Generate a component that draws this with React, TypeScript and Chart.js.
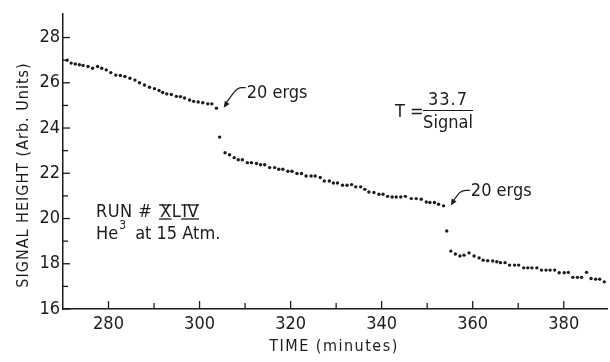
import React, { useEffect, useRef } from "react";
import { Chart, registerables } from "chart.js";

Chart.register(...registerables);

// ---- data ----
const seg1X = [270.9, 271.8, 272.7, 273.6, 274.4, 275.5, 276.5, 277.6, 278.5, 279.5, 280.5, 281.6, 282.6, 283.6, 284.7, 285.8, 286.8, 287.9, 289.0, 290.1, 291.1, 291.9, 292.8, 293.8, 294.9, 295.8, 296.7, 297.8, 298.7, 299.7, 300.7, 301.8, 302.7, 303.7];
const seg1Y = [27.0, 26.87, 26.83, 26.8, 26.77, 26.72, 26.64, 26.72, 26.64, 26.57, 26.45, 26.34, 26.32, 26.28, 26.2, 26.12, 26.0, 25.9, 25.8, 25.74, 25.66, 25.57, 25.51, 25.48, 25.4, 25.39, 25.33, 25.24, 25.18, 25.15, 25.12, 25.07, 25.07, 24.88];

const jump1X = [304.4];
const jump1Y = [23.6];

const seg2X = [305.6, 306.6, 307.6, 308.5, 309.4, 310.5, 311.4, 312.5, 313.4, 314.3, 315.4, 316.5, 317.4, 318.3, 319.4, 320.3, 321.4, 322.4, 323.4, 324.5, 325.4, 326.5, 327.4, 328.5, 329.4, 330.3, 331.4, 332.4, 333.4, 334.3, 335.4, 336.3, 337.2, 338.3, 339.4, 340.3, 341.3, 342.3, 343.2, 344.2, 345.2, 346.5, 347.6, 348.7, 349.8, 350.6, 351.6, 352.5, 353.6];
const seg2Y = [22.91, 22.82, 22.69, 22.6, 22.6, 22.47, 22.47, 22.43, 22.38, 22.38, 22.25, 22.25, 22.18, 22.18, 22.09, 22.09, 21.99, 21.99, 21.88, 21.88, 21.88, 21.81, 21.66, 21.66, 21.57, 21.57, 21.47, 21.47, 21.5, 21.4, 21.4, 21.29, 21.17, 21.15, 21.07, 21.07, 20.98, 20.95, 20.95, 20.95, 20.98, 20.88, 20.88, 20.85, 20.73, 20.71, 20.71, 20.63, 20.56];

const jump2X = [354.3];
const jump2Y = [19.45];

const seg3X = [355.2, 356.2, 357.2, 358.1, 359.2, 360.3, 361.4, 362.3, 363.3, 364.4, 365.3, 366.1, 367.1, 368.1, 369.2, 370.1, 371.2, 372.1, 373.0, 374.1, 375.1, 376.1, 377.0, 378.0, 379.0, 380.1, 381.0, 382.0, 383.0, 383.9, 385.0, 386.0, 387.0, 387.9, 388.9];
const seg3Y = [18.56, 18.43, 18.34, 18.38, 18.48, 18.34, 18.26, 18.16, 18.13, 18.12, 18.09, 18.05, 18.05, 17.94, 17.94, 17.94, 17.82, 17.82, 17.82, 17.82, 17.72, 17.72, 17.72, 17.72, 17.6, 17.6, 17.62, 17.4, 17.4, 17.4, 17.62, 17.35, 17.32, 17.32, 17.2];

const xTicks = [280, 300, 320, 340, 360, 380];
const xMinorTicks = [290, 310, 330, 350, 370];
const yTicks = [16, 18, 20, 22, 24, 26, 28];
const yMinorTicks = [17, 19, 21, 23, 25, 27];

const xTitle = "TIME (minutes)";
const yTitle = "SIGNAL HEIGHT (Arb. Units)";
const ergLabel = "20 ergs";
const runLabel = "RUN #";
const heLabel = "He";

const INK = "#1c1c1c";
const FONT = "'Liberation Sans Narrow', 'DejaVu Sans Condensed', 'Roboto Condensed', sans-serif";

const toPoints = (xs: number[], ys: number[]) => xs.map((v, i) => ({ x: v, y: ys[i] }));

const drawArrowHead = (ctx: CanvasRenderingContext2D, tx: number, ty: number, fx: number, fy: number) => {
  const ang = Math.atan2(ty - fy, tx - fx);
  const len = 7;
  const w = 0.42;
  ctx.beginPath();
  ctx.moveTo(tx, ty);
  ctx.lineTo(tx - len * Math.cos(ang - w), ty - len * Math.sin(ang - w));
  ctx.lineTo(tx - len * Math.cos(ang + w), ty - len * Math.sin(ang + w));
  ctx.closePath();
  ctx.fill();
};

const annotPlugin = {
  id: "annot",
  afterDraw(chart: any) {
    const { ctx, chartArea } = chart;
    const xs = chart.scales.x;
    const ys = chart.scales.y;
    const L = chartArea.left;
    const B = chartArea.bottom;
    ctx.save();
    ctx.strokeStyle = INK;
    ctx.fillStyle = INK;
    ctx.lineWidth = 1.3;
    const seg = (x1: number, y1: number, x2: number, y2: number) => {
      ctx.beginPath();
      ctx.moveTo(x1, y1);
      ctx.lineTo(x2, y2);
      ctx.stroke();
    };
    // inward tick marks
    xTicks.forEach((v) => { const p = xs.getPixelForValue(v); seg(p, B, p, B - 8); });
    xMinorTicks.forEach((v) => { const p = xs.getPixelForValue(v); seg(p, B, p, B - 6); });
    yTicks.forEach((v) => { const p = ys.getPixelForValue(v); seg(L, p, L + 7, p); });
    yMinorTicks.forEach((v) => { const p = ys.getPixelForValue(v); seg(L, p, L + 5, p); });

    // axis titles
    ctx.textAlign = "center";
    ctx.textBaseline = "middle";
    ctx.font = `16px ${FONT}`;
    (ctx as any).letterSpacing = "1.5px";
    ctx.fillText(xTitle, 334, 347);
    (ctx as any).letterSpacing = "1px";
    ctx.save();
    ctx.translate(24, 175);
    ctx.rotate(-Math.PI / 2);
    ctx.fillText(yTitle, 0, 0);
    ctx.restore();

    // arrow 1
    ctx.lineWidth = 1.2;
    const a1x = xs.getPixelForValue(305.3), a1y = ys.getPixelForValue(24.9);
    ctx.beginPath();
    ctx.moveTo(a1x + 2, a1y - 4);
    ctx.lineTo(a1x + 10, a1y - 15);
    ctx.quadraticCurveTo(a1x + 14, a1y - 20, a1x + 18, a1y - 20);
    ctx.lineTo(a1x + 22, a1y - 20);
    ctx.stroke();
    drawArrowHead(ctx, a1x, a1y, a1x + 8, a1y - 12);
    ctx.font = `18px ${FONT}`;
    (ctx as any).letterSpacing = "0px";
    ctx.textAlign = "left";
    ctx.fillText(ergLabel, a1x + 23, a1y - 14);

    // arrow 2
    const a2x = xs.getPixelForValue(355.2), a2y = ys.getPixelForValue(20.58);
    ctx.beginPath();
    ctx.moveTo(a2x + 2, a2y - 4);
    ctx.lineTo(a2x + 8, a2y - 12);
    ctx.quadraticCurveTo(a2x + 11, a2y - 15, a2x + 15, a2y - 15);
    ctx.lineTo(a2x + 19, a2y - 15);
    ctx.stroke();
    drawArrowHead(ctx, a2x, a2y, a2x + 6, a2y - 10);
    ctx.fillText(ergLabel, a2x + 20, a2y - 14);

    // formula T = 33.7 / Signal
    ctx.textAlign = "left";
    ctx.fillText("T =", 395, 112);
    ctx.textAlign = "center";
    (ctx as any).letterSpacing = "1px";
    ctx.fillText("33.7", 448, 100);
    (ctx as any).letterSpacing = "0px";
    ctx.fillText("Signal", 448, 123);
    ctx.lineWidth = 1.2;
    seg(423, 110.5, 473, 110.5);

    // RUN # XLIV
    ctx.textAlign = "left";
    ctx.font = `18px ${FONT}`;
    (ctx as any).letterSpacing = "0.5px";
    let cx = 96;
    const ry = 212;
    ctx.fillText(runLabel, cx, ry);
    cx += ctx.measureText(runLabel + " ").width + 2;
    const wX = ctx.measureText("X").width;
    ctx.fillText("X", cx, ry);
    ctx.lineWidth = 1.3;
    seg(cx - 1, ry - 7, cx + wX, ry - 7);
    seg(cx - 1, ry + 7, cx + wX, ry + 7);
    cx += wX;
    ctx.fillText("L", cx, ry);
    cx += ctx.measureText("L").width + 1;
    const wIV = ctx.measureText("IV").width;
    ctx.fillText("IV", cx, ry);
    seg(cx - 1, ry - 7, cx + wIV, ry - 7);
    seg(cx - 1, ry + 7, cx + wIV, ry + 7);

    // He3 at 15 Atm.
    (ctx as any).letterSpacing = "0px";
    let hx = 96;
    const hy = 234;
    ctx.fillText(heLabel, hx, hy);
    hx += ctx.measureText(heLabel).width;
    ctx.font = `12px ${FONT}`;
    ctx.fillText("3", hx + 1, hy - 8);
    hx += ctx.measureText("3").width + 5;
    ctx.font = `18px ${FONT}`;
    ctx.fillText(" at 15 Atm.", hx, hy);

    ctx.restore();
  },
};

export default function App() {
  const ref = useRef<HTMLCanvasElement | null>(null);
  useEffect(() => {
    document.body.style.margin = "0";
    document.body.style.background = "#ffffff";
    if (!ref.current) return;
    const ds = [
      toPoints(seg1X, seg1Y),
      toPoints(jump1X, jump1Y),
      toPoints(seg2X, seg2Y),
      toPoints(jump2X, jump2Y),
      toPoints(seg3X, seg3Y),
    ].map((d) => ({
      data: d,
      showLine: false,
      pointRadius: 1.7,
      pointBackgroundColor: INK,
      pointBorderWidth: 0,
      pointHoverRadius: 1.7,
    }));
    const chart = new Chart(ref.current, {
      type: "scatter",
      data: { datasets: ds },
      options: {
        responsive: false,
        animation: false,
        events: [],
        layout: { padding: { top: 13, right: 3, left: 0, bottom: 0 } },
        plugins: { legend: { display: false }, tooltip: { enabled: false } },
        scales: {
          x: {
            type: "linear",
            min: 270,
            max: 389.5,
            afterBuildTicks: (s: any) => { s.ticks = xTicks.map((v) => ({ value: v })); },
            afterFit: (s: any) => { s.height = 53; },
            grid: { display: false, drawTicks: false },
            border: { display: true, color: INK, width: 1.5 },
            ticks: { color: INK, font: { family: FONT, size: 18 }, padding: 5, maxRotation: 0, autoSkip: false },
          },
          y: {
            type: "linear",
            min: 16,
            max: 29.05,
            afterBuildTicks: (s: any) => { s.ticks = yTicks.map((v) => ({ value: v })); },
            afterFit: (s: any) => { s.width = 63; },
            grid: { display: false, drawTicks: false },
            border: { display: true, color: INK, width: 1.5 },
            ticks: { color: INK, font: { family: FONT, size: 18 }, padding: 3, autoSkip: false },
          },
        },
      },
      plugins: [annotPlugin],
    } as any);
    return () => chart.destroy();
  }, []);
  return (
    <div style={{ width: 610, height: 362, background: "#fff" }}>
      <canvas ref={ref} width={610} height={362} style={{ display: "block", width: 610, height: 362 }} />
    </div>
  );
}
